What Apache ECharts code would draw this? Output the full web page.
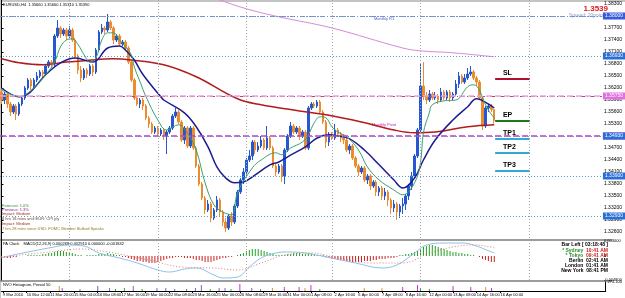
<!DOCTYPE html>
<html>
<head>
<meta charset="utf-8">
<script src="https://cdn.jsdelivr.net/npm/echarts@6/dist/echarts.min.js"></script>
<style>
html, body { margin: 0; padding: 0; background: #fff; }
#chart { width: 625px; height: 298px; }
</style>
</head>
<body>
<div id="chart"></div>
<script>
// EURUSD H4, 9 Mar - 15 Apr 2010
const opens = [
  1.3610,1.3590,1.3605,1.3580,1.3560,1.3575,1.3555,1.3580,1.3595,1.3620,
  1.3640,1.3625,1.3640,1.3650,1.3660,1.3655,1.3675,1.3685,1.3680,1.3750,
  1.3770,1.3755,1.3765,1.3750,1.3765,1.3740,1.3700,1.3665,1.3645,1.3665,
  1.3655,1.3675,1.3660,1.3715,1.3760,1.3770,1.3765,1.3785,1.3770,1.3740,
  1.3750,1.3730,1.3735,1.3720,1.3685,1.3640,1.3595,1.3580,1.3590,1.3575,
  1.3545,1.3530,1.3510,1.3520,1.3505,1.3515,1.3500,1.3510,1.3520,1.3550,
  1.3560,1.3535,1.3490,1.3520,1.3475,1.3520,1.3470,1.3425,1.3380,1.3345,
  1.3315,1.3330,1.3295,1.3315,1.3340,1.3310,1.3285,1.3270,1.3300,1.3285,
  1.3325,1.3360,1.3390,1.3410,1.3440,1.3450,1.3485,1.3465,1.3475,1.3490,
  1.3470,1.3495,1.3470,1.3425,1.3410,1.3425,1.3400,1.3465,1.3500,1.3525,
  1.3510,1.3520,1.3500,1.3510,1.3470,1.3570,1.3580,1.3575,1.3585,1.3560,
  1.3535,1.3485,1.3505,1.3495,1.3515,1.3505,1.3495,1.3490,1.3465,1.3475,
  1.3445,1.3425,1.3410,1.3420,1.3390,1.3400,1.3375,1.3385,1.3360,1.3370,
  1.3350,1.3360,1.3340,1.3320,1.3330,1.3310,1.3325,1.3330,1.3350,1.3375,
  1.3400,1.3450,1.3515,1.3625,1.3600,1.3590,1.3605,1.3595,1.3600,1.3590,
  1.3610,1.3595,1.3610,1.3595,1.3605,1.3630,1.3650,1.3635,1.3645,1.3655,
  1.3660,1.3645,1.3635,1.3595,1.3525,1.3570,1.3575,1.3566
]
const closes = [
  1.3590,1.3605,1.3580,1.3560,1.3575,1.3555,1.3580,1.3595,1.3620,1.3640,
  1.3625,1.3640,1.3650,1.3660,1.3655,1.3675,1.3685,1.3680,1.3750,1.3770,
  1.3755,1.3765,1.3750,1.3765,1.3740,1.3700,1.3665,1.3645,1.3665,1.3655,
  1.3675,1.3660,1.3715,1.3760,1.3770,1.3765,1.3785,1.3770,1.3740,1.3750,
  1.3730,1.3735,1.3720,1.3685,1.3640,1.3595,1.3580,1.3590,1.3575,1.3545,
  1.3530,1.3510,1.3520,1.3505,1.3515,1.3500,1.3510,1.3520,1.3550,1.3560,
  1.3535,1.3490,1.3520,1.3475,1.3520,1.3470,1.3425,1.3380,1.3345,1.3315,
  1.3330,1.3295,1.3315,1.3340,1.3310,1.3285,1.3270,1.3300,1.3285,1.3325,
  1.3360,1.3390,1.3410,1.3440,1.3450,1.3485,1.3465,1.3475,1.3490,1.3470,
  1.3495,1.3470,1.3425,1.3410,1.3425,1.3400,1.3465,1.3500,1.3525,1.3510,
  1.3520,1.3500,1.3510,1.3470,1.3570,1.3580,1.3575,1.3585,1.3560,1.3535,
  1.3485,1.3505,1.3495,1.3515,1.3505,1.3495,1.3490,1.3465,1.3475,1.3445,
  1.3425,1.3410,1.3420,1.3390,1.3400,1.3375,1.3385,1.3360,1.3370,1.3350,
  1.3360,1.3340,1.3320,1.3330,1.3310,1.3325,1.3330,1.3350,1.3375,1.3400,
  1.3450,1.3515,1.3625,1.3600,1.3590,1.3605,1.3595,1.3600,1.3590,1.3610,
  1.3595,1.3610,1.3595,1.3605,1.3630,1.3650,1.3635,1.3645,1.3655,1.3660,
  1.3645,1.3635,1.3595,1.3525,1.3570,1.3575,1.3566,1.3539
]
const highs = [
  1.3620,1.3610,1.3610,1.3585,1.3580,1.3580,1.3585,1.3600,1.3625,1.3645,
  1.3645,1.3645,1.3660,1.3665,1.3665,1.3680,1.3690,1.3690,1.3755,1.3790,
  1.3775,1.3770,1.3770,1.3775,1.3770,1.3745,1.3705,1.3675,1.3670,1.3670,
  1.3680,1.3680,1.3720,1.3765,1.3780,1.3775,1.3805,1.3790,1.3775,1.3755,
  1.3755,1.3740,1.3740,1.3725,1.3690,1.3645,1.3600,1.3595,1.3595,1.3580,
  1.3550,1.3535,1.3525,1.3525,1.3520,1.3520,1.3515,1.3525,1.3555,1.3570,
  1.3565,1.3540,1.3525,1.3525,1.3525,1.3525,1.3475,1.3430,1.3385,1.3350,
  1.3340,1.3335,1.3320,1.3350,1.3345,1.3315,1.3295,1.3305,1.3310,1.3330,
  1.3365,1.3395,1.3420,1.3445,1.3465,1.3490,1.3490,1.3485,1.3500,1.3495,
  1.3525,1.3500,1.3475,1.3430,1.3430,1.3430,1.3470,1.3505,1.3535,1.3530,
  1.3525,1.3525,1.3515,1.3515,1.3575,1.3585,1.3585,1.3590,1.3590,1.3565,
  1.3540,1.3510,1.3510,1.3530,1.3520,1.3510,1.3505,1.3495,1.3480,1.3480,
  1.3450,1.3430,1.3425,1.3425,1.3405,1.3405,1.3390,1.3390,1.3375,1.3375,
  1.3370,1.3365,1.3345,1.3340,1.3335,1.3330,1.3345,1.3355,1.3380,1.3410,
  1.3455,1.3520,1.3680,1.3685,1.3610,1.3615,1.3610,1.3610,1.3605,1.3620,
  1.3615,1.3615,1.3615,1.3610,1.3640,1.3660,1.3655,1.3655,1.3670,1.3675,
  1.3665,1.3650,1.3640,1.3600,1.3575,1.3580,1.3580,1.3566
]
const lows = [
  1.3580,1.3580,1.3570,1.3550,1.3555,1.3540,1.3550,1.3575,1.3590,1.3615,
  1.3615,1.3620,1.3635,1.3645,1.3645,1.3650,1.3670,1.3670,1.3675,1.3745,
  1.3745,1.3750,1.3740,1.3745,1.3735,1.3695,1.3655,1.3635,1.3640,1.3645,
  1.3650,1.3650,1.3655,1.3710,1.3755,1.3755,1.3760,1.3765,1.3730,1.3735,
  1.3725,1.3725,1.3715,1.3680,1.3635,1.3590,1.3575,1.3570,1.3565,1.3540,
  1.3520,1.3505,1.3505,1.3500,1.3500,1.3490,1.3455,1.3505,1.3515,1.3545,
  1.3530,1.3485,1.3480,1.3470,1.3470,1.3465,1.3420,1.3375,1.3340,1.3305,
  1.3310,1.3285,1.3290,1.3310,1.3300,1.3275,1.3260,1.3265,1.3275,1.3280,
  1.3320,1.3355,1.3380,1.3400,1.3435,1.3440,1.3455,1.3460,1.3470,1.3465,
  1.3465,1.3465,1.3420,1.3400,1.3405,1.3385,1.3380,1.3460,1.3495,1.3505,
  1.3505,1.3490,1.3495,1.3465,1.3465,1.3565,1.3570,1.3570,1.3555,1.3530,
  1.3470,1.3475,1.3490,1.3490,1.3500,1.3485,1.3480,1.3460,1.3455,1.3440,
  1.3420,1.3400,1.3405,1.3385,1.3380,1.3365,1.3370,1.3350,1.3350,1.3340,
  1.3340,1.3325,1.3305,1.3310,1.3290,1.3295,1.3305,1.3315,1.3340,1.3365,
  1.3395,1.3445,1.3510,1.3590,1.3580,1.3585,1.3590,1.3590,1.3580,1.3585,
  1.3590,1.3590,1.3585,1.3590,1.3600,1.3620,1.3630,1.3630,1.3640,1.3650,
  1.3640,1.3625,1.3590,1.3515,1.3520,1.3560,1.3560,1.3531
]

// moving averages: [bar, price]
const maFast = [
  [0,1.3615],[3,1.3605],[6,1.3598],[9,1.3608],[12,1.3628],[15,1.3653],[18,1.3685],
  [20,1.3723],[22,1.3740],[24,1.3743],[26,1.3728],[28,1.3703],[30,1.3685],[32,1.3695],
  [34,1.3740],[36,1.3758],[38,1.3758],[40,1.3740],[42,1.3723],[44,1.3703],[45,1.3673],
  [47,1.3635],[49,1.3598],[53,1.3540],[56,1.3515],[60,1.3528],[63,1.3508],[66,1.3465],
  [69,1.3383],[72,1.3328],[75,1.3310],[78,1.3303],[80,1.3358],[85,1.3420],[88,1.3440],
  [93,1.3458],[95,1.3453],[98,1.3470],[102,1.3485],[104,1.3503],[106,1.3533],[108,1.3548],
  [110,1.3545],[112,1.3523],[114,1.3510],[117,1.3498],[121,1.3465],[124,1.3423],[128,1.3390],
  [133,1.3365],[136,1.3353],[140,1.3383],[142,1.3433],[143,1.3508],[145,1.3558],[146,1.3578],
  [150,1.3588],[154,1.3590],[158,1.3623],[160,1.3628],[162,1.3615],[163,1.3595],[165,1.3565],
  [167,1.3545]
]
const maMid = [
  [0,1.3620],[6,1.3598],[16,1.3660],[20,1.3683],[25,1.3695],[31,1.3685],[36,1.3720],
  [40,1.3725],[42,1.3715],[45,1.3690],[48,1.3653],[54,1.3598],[55,1.3590],[62,1.3558],
  [66,1.3523],[70,1.3473],[73,1.3423],[76,1.3395],[79,1.3383],[82,1.3385],[86,1.3403],
  [91,1.3428],[94,1.3435],[97,1.3448],[103,1.3473],[107,1.3495],[111,1.3503],[114,1.3500],
  [118,1.3493],[123,1.3465],[128,1.3428],[133,1.3390],[136,1.3370],[140,1.3395],[143,1.3440],
  [147,1.3490],[153,1.3540],[158,1.3573],[161,1.3593],[165,1.3580],[167,1.3570]
]
const maSlow = [
  [0,1.3693],[6,1.3683],[14,1.3678],[22,1.3685],[28,1.3688],[38,1.3693],[44,1.3690],
  [55,1.3678],[66,1.3648],[80,1.3593],[88,1.3578],[99,1.3565],[110,1.3553],[122,1.3535],
  [133,1.3515],[140,1.3508],[147,1.3510],[158,1.3523],[167,1.3528]
]
const maLong = [
  [66,1.3860],[74,1.3840],[83,1.3818],[94,1.3798],[112,1.3770],[136,1.3720],
  [142,1.3713],[153,1.3708],[167,1.3698]
]

// MACD panel
const macdHist = [
  -0.0002,-0.0002,-0.0004,-0.0004,
  -0.0002,-0.0002,0,0,0,0.0002,
  0.0002,0.0002,0.0002,
  0.0002,0.0004,0.0004,0.0006,0.0006,0.0008,0.0010,0.0010,0.0010,0.0008,0.0008,0.0006,0.0004,
  0.0002,0.0002,0,0.0002,0.0002,0.0002,
  0.0002,0.0004,0.0004,0.0004,0.0006,0.0004,0.0004,0.0002,0.0002,
  -0.0002,-0.0002,-0.0004,-0.0006,-0.0008,-0.0010,-0.0010,-0.0012,-0.0012,-0.0014,-0.0014,-0.0014,-0.0012,-0.0010,-0.0008,-0.0006,
  -0.0004,-0.0004,-0.0002,-0.0002,-0.0002,-0.0004,-0.0004,-0.0004,-0.0006,
  -0.0008,-0.0008,-0.0010,-0.0012,-0.0012,-0.0012,-0.0010,-0.0008,-0.0006,-0.0004,-0.0004,
  -0.0002,-0.0002,0,
  0.0002,0.0004,0.0006,0.0010,0.0012,0.0014,0.0014,0.0014,0.0012,0.0010,0.0008,0.0006,0.0004,
  0.0002,0.0002,0.0002,0.0002,
  0.0004,0.0004,0.0006,0.0006,0.0006,0.0004,0.0004,0.0004,0.0004,0.0004,0.0002,0.0002,0.0002,
  -0.0002,-0.0004,-0.0006,-0.0006,-0.0008,-0.0008,-0.0010,-0.0010,-0.0012,-0.0012,-0.0012,-0.0012,-0.0012,
  -0.0010,-0.0010,-0.0010,-0.0008,-0.0008,-0.0006,-0.0006,-0.0006,-0.0004,-0.0004,-0.0004,-0.0002,
  0.0002,0.0002,0.0004,0.0004,0.0006,0.0008,0.0010,
  0.0014,0.0018,0.0020,0.0022,0.0022,0.0020,0.0018,0.0016,0.0014,0.0012,0.0010,
  0.0008,0.0008,0.0006,0.0006,0.0004,0.0004,0.0002,0.0002,
  0,-0.0002,
  -0.0006,-0.0008,-0.0010,-0.0012,-0.0012
]
const macdMain = [
  [0,-0.0004],[4,0.0002],[9,0.0008],[16,0.0016],[23,0.0022],[28,0.0020],[33,0.0006],
  [40,-0.0004],[46,-0.0014],[53,-0.0028],[57,-0.0032],[62,-0.0026],[66,-0.0024],[72,-0.0038],
  [75,-0.0044],[80,-0.0042],[84,-0.0022],[88,-0.0004],[93,0.0006],[97,0.0008],[103,0.0006],
  [110,-0.0002],[120,-0.0014],[129,-0.0024],[134,-0.0018],[140,0.0006],[144,0.0022],[150,0.0026],
  [156,0.0026],[160,0.0022],[166,0.0008],[167,0.0006]
]
const macdSignal = [
  [0,-0.0002],[16,0.0008],[27,0.0014],[36,0.0008],[50,-0.0008],[61,-0.0022],[72,-0.0024],
  [80,-0.0028],[88,-0.0014],[96,0.0002],[105,0.0006],[114,-0.0004],[125,-0.0014],[136,-0.0014],
  [145,0.0006],[153,0.0018],[160,0.0022],[166,0.0018],[167,0.0016]
]

// bottom histogram (sparse): bar index, value, colour key
const histIdx = [19,20,26,32,36,38,41,44,47,52,55,58,62,65,67,70,73,75,77,80,84,87,91,95,100,102,104,107,122,128,135,140,141,144,152,158,163,165]
const histVal = [150,90,60,150,90,60,90,150,60,90,90,60,60,90,180,60,90,90,60,210,90,60,90,120,120,90,180,60,90,90,120,180,90,60,150,120,120,90]
const histCol = ['o','p','g','p','p','g','g','p','g','p','p','p','g','p','p','g','p','p','g','m','p','g','o','m','m','o','m','g','o','o','m','m','g','g','m','m','o','m']

const timeLabels = ['9 Mar 2010','10 Mar 12:00','11 Mar 20:00','15 Mar 04:00','16 Mar 08:00','17 Mar 16:00',
  '19 Mar 00:00','22 Mar 08:00','23 Mar 16:00','25 Mar 00:00','26 Mar 08:00','29 Mar 16:00','31 Mar 00:00',
  '1 Apr 08:00','2 Apr 16:00','6 Apr 00:00','7 Apr 08:00','8 Apr 16:00','12 Apr 00:00','13 Apr 08:00',
  '14 Apr 16:00','16 Apr 00:00']

const gridBars = [23, 53, 83, 112, 142, 179]

// price levels (pivots etc.)
const levelPrices = [1.3800, 1.3793, 1.3693, 1.3645, 1.3575, 1.3543, 1.3530, 1.3493, 1.3390, 1.3293, 1.3248]
// trade plan
const planNames = ['SL', 'EP', 'TP1', 'TP2', 'TP3']
const planPrices = [1.3643, 1.3538, 1.3493, 1.3458, 1.3413]

const clockCities = ['* Sydney', '* Tokyo', 'Berlin', 'London', 'New York']
const clockTimes = ['10:41 AM', '09:41 AM', '02:41 AM', '01:41 AM', '08:41 PM']

const newsLines = ['Forecast: 1.0%', 'Previous: 1.3%', 'Impact: Medium', '8 hrs 18 mins until EUR: CPI y/y',
  'Impact: Medium', '7 hrs 28 mins since USD: FOMC Member Bullard Speaks']

const SLOTS = 204
const slots = Array.from({ length: SLOTS }, (_, i) => String(i))
const FONT = 'Liberation Sans'

const candles = opens.map((o, i) => [o, closes[i], lows[i], highs[i]])

const histColors = { o: '#e8962a', p: '#8a5ad0', g: '#33a033', m: '#d030d0' }
const histData = slots.map(() => null)
histIdx.forEach((b, k) => {
  histData[b] = { value: histVal[k], itemStyle: { color: histColors[histCol[k]] } }
})

const dotted = (color) => ({ color: color, width: 1, type: [1, 2] })

const levelStyles = [
  { lineStyle: { color: '#8a8ad8', width: 1, type: [5, 2, 1, 2] }, box: '#3a5ad8' },
  { lineStyle: dotted('#5c9cc8') },
  { lineStyle: dotted('#5c9cc8'), box: '#2a6fd6' },
  { lineStyle: { color: '#b05060', width: 1, type: [5, 2, 1, 2] } },
  { lineStyle: { color: '#e8a8e8', width: 1.5, type: [6, 3] }, box: '#e070e0' },
  { lineStyle: dotted('#9ccc9c') },
  { lineStyle: { color: '#c838c8', width: 1.5, type: [6, 3] }, box: '#c020c0' },
  { lineStyle: dotted('#5c9cc8'), box: '#2a6fd6' },
  { lineStyle: dotted('#5c9cc8'), box: '#2a6fd6' },
  { lineStyle: dotted('#5c9cc8'), box: '#2a6fd6' },
  { lineStyle: { color: '#b05060', width: 1, type: [4, 2] }, box: '#a02020' }
]
const planColors = ['#b01030', '#1a7a1a', '#35a8d8', '#35a8d8', '#35a8d8']

const levelLines = levelPrices.map((p, k) => {
  const s = levelStyles[k]
  const item = { yAxis: p, lineStyle: s.lineStyle }
  if (s.box) {
    item.label = {
      show: true, position: 'end', distance: 1, formatter: p.toFixed(5),
      backgroundColor: s.box, color: '#fff', fontSize: 5, fontFamily: FONT, padding: [1, 2]
    }
  }
  return item
})
const planLines = planNames.map((n, k) => [
  {
    coord: [167.3, planPrices[k]],
    lineStyle: { color: planColors[k], width: 2, type: 'solid' },
    label: {
      show: true, position: 'insideStartTop', distance: 2, formatter: '   ' + n,
      color: '#000', fontWeight: 'bold', fontSize: 7, fontFamily: FONT
    }
  },
  { coord: [179, planPrices[k]] }
])
const vLines = (color) => gridBars.map(b => ({ xAxis: b, lineStyle: dotted(color) }))

const chart = echarts.init(document.getElementById('chart'))

const maLine = (data, color, width) => ({
  type: 'line', xAxisIndex: 1, yAxisIndex: 0, data: data, smooth: 0.4,
  showSymbol: false, symbol: 'none', silent: true, z: 4,
  lineStyle: { color: color, width: width }
})

const labelAt = (i) => i % 8 === 0 && i / 8 < timeLabels.length

const option = {
  animation: false,
  backgroundColor: '#fff',
  textStyle: { fontFamily: FONT },
  grid: [
    { left: 0, right: 13, top: 0, height: 244 },
    { left: 0, right: 13, top: 241, height: 39 },
    { left: 0, right: 13, top: 282, height: 9 }
  ],
  xAxis: [
    { type: 'category', gridIndex: 0, data: slots, show: false },
    { type: 'value', gridIndex: 0, min: -0.5, max: SLOTS - 0.5, show: false },
    { type: 'category', gridIndex: 1, data: slots, show: false },
    { type: 'value', gridIndex: 1, min: -0.5, max: SLOTS - 0.5, show: false },
    {
      type: 'category', gridIndex: 2, data: slots,
      axisLine: { show: true, lineStyle: { color: '#000' } },
      axisTick: { show: true, length: 2, alignWithLabel: true, interval: labelAt, lineStyle: { color: '#000' } },
      axisLabel: {
        interval: labelAt, hideOverlap: false, showMinLabel: true,
        formatter: (v, i) => timeLabels[i / 8] || '',
        fontSize: 4, fontFamily: FONT, color: '#000', align: 'left', margin: 2
      }
    }
  ],
  yAxis: [
    {
      type: 'value', gridIndex: 0, position: 'right', min: 1.3230, max: 1.3840, interval: 0.003,
      axisLine: { show: true, lineStyle: { color: '#000' } },
      axisTick: { show: true, length: 2, lineStyle: { color: '#000' } },
      axisLabel: {
        fontSize: 5, color: '#000', margin: 2, showMinLabel: false, showMaxLabel: false,
        formatter: v => v.toFixed(5)
      },
      splitLine: { show: false }
    },
    {
      type: 'value', gridIndex: 1, position: 'right', min: -0.0048, max: 0.0030, interval: 0.0048,
      axisLine: { show: true, lineStyle: { color: '#000' } },
      axisTick: { show: false },
      axisLabel: { fontSize: 4, color: '#000', margin: 2, formatter: v => v === 0 ? '0' : v.toFixed(6) },
      splitLine: { show: false }
    },
    {
      type: 'value', gridIndex: 2, position: 'right', min: 0, max: 274.1, interval: 274.1,
      axisLine: { show: true, lineStyle: { color: '#000' } },
      axisTick: { show: false },
      axisLabel: { fontSize: 4, color: '#000', margin: 2, showMinLabel: false, formatter: v => v.toFixed(3) },
      splitLine: { show: false }
    }
  ],
  series: [
    {
      type: 'line', xAxisIndex: 1, yAxisIndex: 0, data: [], silent: true,
      markLine: {
        symbol: ['none', 'none'], silent: true, animation: false,
        label: { show: false },
        data: levelLines.concat(vLines('#a8a8a8'))
      }
    },
    {
      type: 'candlestick', xAxisIndex: 0, yAxisIndex: 0, data: candles, barWidth: 2, z: 3,
      itemStyle: {
        color: '#2457d0', color0: '#eb8c2d',
        borderColor: '#2457d0', borderColor0: '#eb8c2d', borderWidth: 1
      }
    },
    maLine(maLong, '#d68ad6', 1),
    maLine(maSlow, '#b01c1c', 1.5),
    maLine(maMid, '#1c1c90', 1.5),
    maLine(maFast, '#3aa070', 1),
    {
      type: 'line', xAxisIndex: 1, yAxisIndex: 0, data: [], silent: true, z: 6,
      markLine: {
        symbol: ['none', 'none'], silent: true, animation: false,
        data: planLines
      }
    },
    {
      type: 'bar', xAxisIndex: 2, yAxisIndex: 1, barWidth: 1, silent: true,
      data: macdHist.map(v => ({ value: v, itemStyle: { color: v >= 0 ? '#22a022' : '#c82020' } })),
      markLine: {
        symbol: ['none', 'none'], silent: true, animation: false, label: { show: false },
        data: vLines('#a8a8a8')
      }
    },
    {
      type: 'line', xAxisIndex: 3, yAxisIndex: 1, data: macdMain, smooth: 0.4, symbol: 'none',
      silent: true, lineStyle: { color: '#8cc2ea', width: 1 }
    },
    {
      type: 'line', xAxisIndex: 3, yAxisIndex: 1, data: macdSignal, smooth: 0.4, symbol: 'none',
      silent: true, lineStyle: { color: '#e07a7a', width: 1, type: [1, 2] }
    },
    {
      type: 'bar', xAxisIndex: 4, yAxisIndex: 2, barWidth: 1, silent: true, data: histData
    }
  ],
  graphic: [
    // window frame and separators
    { type: 'rect', shape: { x: 0, y: 0, width: 625, height: 2 }, style: { fill: '#c4c4c4' }, silent: true },
    { type: 'rect', shape: { x: 0, y: 0, width: 1, height: 298 }, style: { fill: '#c4c4c4' }, silent: true },
    { type: 'rect', shape: { x: 0, y: 239, width: 612, height: 2 }, style: { fill: '#9c9c9c' }, silent: true },
    { type: 'rect', shape: { x: 0, y: 280, width: 612, height: 2 }, style: { fill: '#9c9c9c' }, silent: true },
    { type: 'text', x: 3, y: 3, style: { text: 'EURUSD,H4  1.35660 1.35660 1.35310 1.35390', fontSize: 4, fontFamily: FONT, fill: '#000' } },
    { type: 'text', x: 608, y: 5, style: { text: '1.3539', align: 'right', fontSize: 8, fontWeight: 'bold', fontFamily: FONT, fill: '#e01818' } },
    { type: 'text', x: 608, y: 13, style: { text: 'Spread: 20points.', align: 'right', fontSize: 5, fontFamily: FONT, fill: '#8ea2c8' } },
    { type: 'text', x: 374, y: 17, style: { text: 'Monthly R1', fontSize: 4, fontFamily: FONT, fill: '#4858c8' } },
    { type: 'text', x: 372, y: 123, style: { text: 'Monthly Pivot', fontSize: 4, fontFamily: FONT, fill: '#c020c0' } },
    { type: 'text', x: 3, y: 242, style: { text: 'PA Clock    MACD(12,26,9) 0.000268 0.002910 0.000000 -0.001842', fontSize: 4, fontFamily: FONT, fill: '#000' } },
    { type: 'text', x: 3, y: 283, style: { text: 'NVO Histogram, Period 50', fontSize: 4, fontFamily: FONT, fill: '#000' } },
    { type: 'text', x: 608, y: 242, style: { text: 'Bar Left [ 03:18:48 ]', align: 'right', fontSize: 5, fontWeight: 'bold', fontFamily: FONT, fill: '#000' } }
  ].concat(clockCities.map((c, k) => ({
    type: 'text', x: 608, y: 248 + k * 5,
    style: {
      text: '{a|' + c + '}  {b|' + clockTimes[k] + '}', align: 'right', fontSize: 5, fontFamily: FONT,
      rich: {
        a: { fill: k < 2 ? '#2e8b2e' : '#000', fontSize: 5, fontWeight: 'bold', fontFamily: FONT },
        b: { fill: k < 2 ? '#d02020' : '#000', fontSize: 5, fontWeight: 'bold', fontFamily: FONT }
      }
    }
  }))).concat(newsLines.map((t, k) => ({
    type: 'text', x: 2, y: [204, 208, 212, 217, 222, 227][k],
    style: {
      text: t, fontSize: 4, fontFamily: FONT,
      fill: ['#2e8b2e', '#8a2b8a', '#a0302a', '#6a4a2a', '#a0302a', '#8a7a20'][k]
    }
  })))
}

chart.setOption(option)
</script>
</body>
</html>
